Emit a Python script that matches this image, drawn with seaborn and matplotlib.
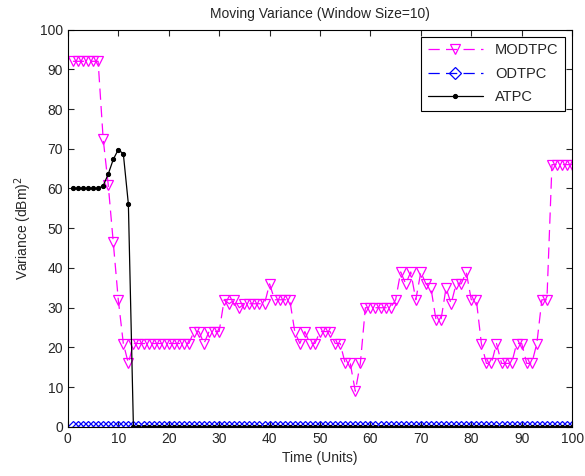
import numpy as np
import pandas as pd
import matplotlib
matplotlib.use("Agg")
import matplotlib.pyplot as plt
import seaborn as sns

time_units = list(range(1, 101))

modtpc = [92, 92, 92, 92, 92, 92, 72.5, 61, 46.5, 32,
          21, 16, 21, 21, 21, 21, 21, 21, 21, 21,
          21, 21, 21, 21, 24, 24, 21, 24, 24, 24,
          32, 31, 32, 30, 31, 31, 31, 31, 31, 36,
          32, 32, 32, 32, 24, 21, 24, 21, 21, 24,
          24, 24, 21, 21, 16, 16, 9, 16, 30, 30,
          30, 30, 30, 30, 32, 39, 36, 39, 32, 39,
          36, 35, 27, 27, 35, 31, 36, 36, 39, 32,
          32, 21, 16, 16, 21, 16, 16, 16, 21, 21,
          16, 16, 21, 32, 32, 66, 66, 66, 66, 66]

odtpc = [0] * 100

atpc = [60, 60, 60, 60, 60, 60, 60.7, 63.6, 67.3, 69.8,
        68.7, 56.1] + [0] * 88

series_names = ["MODTPC", "ODTPC", "ATPC"]

sns.set_style("ticks")
plt.rcParams['font.family'] = ['Liberation Sans', 'DejaVu Sans']

fig = plt.figure(figsize=(5.85, 4.76), dpi=100)
ax = fig.add_axes([0.116, 0.103, 0.862, 0.835])

df = pd.DataFrame({"t": time_units, "MODTPC": modtpc, "ODTPC": odtpc, "ATPC": atpc})

sns.lineplot(data=df, x="t", y="MODTPC", ax=ax, color="#ff00ff", linestyle=(0, (9, 5)),
             linewidth=0.9, marker="v", markersize=7.3, markerfacecolor="none",
             markeredgecolor="#ff00ff", markeredgewidth=0.9, label=series_names[0])
sns.lineplot(data=df, x="t", y="ODTPC", ax=ax, color="#0000ff", linestyle=(0, (9, 5)),
             linewidth=0.9, marker="D", markersize=6.2, markerfacecolor="none",
             markeredgecolor="#0000ff", markeredgewidth=0.9, label=series_names[1])
sns.lineplot(data=df, x="t", y="ATPC", ax=ax, color="black", linestyle="-",
             linewidth=0.9, marker="o", markersize=3, markerfacecolor="black",
             markeredgecolor="black", label=series_names[2])

ax.set_xlim(0, 100)
ax.set_ylim(0, 100)
ax.set_xticks(range(0, 101, 10))
ax.set_yticks(range(0, 101, 10))
ax.tick_params(direction="in", top=True, right=True, labelsize=10, length=4, width=0.8)
for s in ax.spines.values():
    s.set_visible(True)
    s.set_linewidth(0.8)
    s.set_color("black")

ax.set_title("Moving Variance (Window Size=10)", fontsize=10, pad=8)
ax.set_xlabel("Time (Units)", fontsize=10, labelpad=4)
ax.set_ylabel("Variance (dBm)$^2$", fontsize=10, labelpad=4)

leg = ax.legend(loc="upper right", fontsize=10.5, frameon=True, fancybox=False,
                edgecolor="black", framealpha=1, handlelength=3.8,
                borderaxespad=0.5, labelspacing=0.65, borderpad=0.45)
leg.get_frame().set_linewidth(0.8)

fig.savefig("out.png", dpi=100)
